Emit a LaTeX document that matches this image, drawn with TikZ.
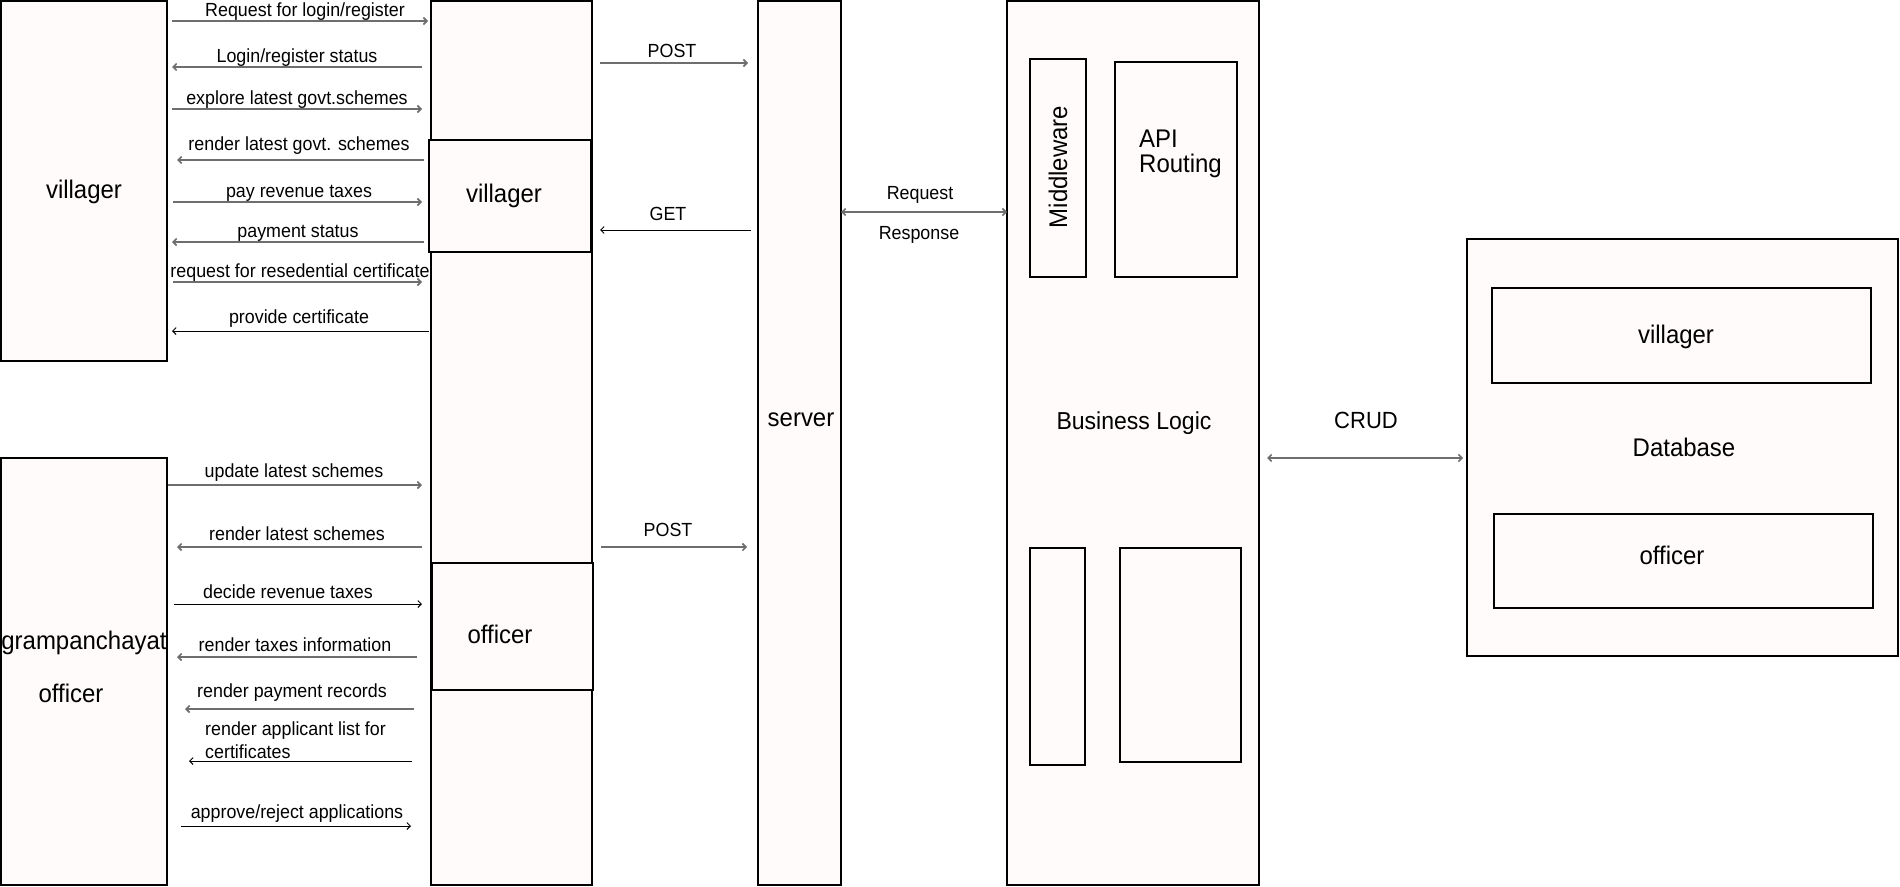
\documentclass[tikz,border=0pt]{standalone}
\usepackage{fontspec}
\setmainfont{Liberation Sans}[FakeStretch=0.94]
\usetikzlibrary{arrows.meta}
\definecolor{boxfill}{HTML}{FFFBFB}
\definecolor{arrgray}{HTML}{6E6E6E}
\newcommand\mymsg[5]{%
  \coordinate (#1a) at (#2,#4);
  \coordinate (#1b) at (#3,#4);
  \draw[#5] (#1a) -- (#1b);}
\tikzset{
  x=1pt,y=-1pt,
  box/.style={draw=black,line width=1.1pt,fill=boxfill,anchor=north west,inner sep=0pt,outer sep=0pt},
  small/.style={inner sep=0pt,font=\fontsize{19}{22}\selectfont},
  big/.style={inner sep=0pt,font=\fontsize{25.5}{28}\selectfont},
  tipa/.tip={Straight Barb[length=3.5pt,width=7pt]},
  garr/.style={draw=arrgray,line width=1.6pt,-tipa},
  barr/.style={draw=black,line width=0.9pt,-tipa},
  gdarr/.style={draw=arrgray,line width=1.6pt,tipa-tipa},
}
\begin{document}
\begin{tikzpicture}
\useasboundingbox (0,0) rectangle (1900,886);
% boxes
\node[box,minimum width=166pt,minimum height=360pt] (lv) at (1,1) {};
\node[box,minimum width=166pt,minimum height=427pt] (lo) at (1,458) {};
\node[box,minimum width=161pt,minimum height=884pt] (midcol) at (431,1) {};
\node[box,minimum width=162pt,minimum height=112pt] (mv) at (429,140) {};
\node[box,minimum width=161pt,minimum height=127pt] (mo) at (432,563) {};
\node[box,minimum width=83pt,minimum height=884pt] (srv) at (758,1) {};
\node[box,minimum width=252pt,minimum height=884pt] (bl) at (1007,1) {};
\node[box,minimum width=56pt,minimum height=218pt] (mw) at (1030,59) {};
\node[box,minimum width=122pt,minimum height=215pt] (api) at (1115,62) {};
\node[box,minimum width=55pt,minimum height=217pt] (bx1) at (1030,548) {};
\node[box,minimum width=121pt,minimum height=214pt] (bx2) at (1120,548) {};
\node[box,minimum width=431pt,minimum height=417pt] (db) at (1467,239) {};
\node[box,minimum width=379pt,minimum height=95pt] (dbv) at (1492,288) {};
\node[box,minimum width=379pt,minimum height=94pt] (dbo) at (1494,514) {};
% big labels
\node[big] (tlv) at (84,192) {villager};
\node[big] (tlo1) at (84,643) {grampanchayat};
\node[big] (tlo2) at (71,693) {officer};
\node[big] (tmv) at (504,196) {villager};
\node[big] (tmo) at (500,634) {officer};
\node[big] (tsrv) at (801,420) {server};
\node[big,rotate=90] (tmw) at (1058,167) {Middleware};
\node[big,anchor=west] (tapi1) at (1139,139) {API};
\node[big,anchor=west] (tapi2) at (1139,166) {Routing};
\node[inner sep=0pt,font=\fontsize{24.5}{28}\selectfont] (tbl) at (1134,423) {Business Logic};
\node[inner sep=0pt,font=\fontsize{23.4}{26}\selectfont] (tcrud) at (1366,420) {CRUD};
\node[big] (tdb) at (1684,447) {Database};
\node[big] (tdbv) at (1676,337) {villager};
\node[big] (tdbo) at (1672,555) {officer};
% villager messages
\mymsg{v1}{172}{428}{21}{garr}
\mymsg{v2}{422}{172}{67}{garr}
\mymsg{v3}{172}{422}{109}{garr}
\mymsg{v4}{424}{177}{160}{garr}
\mymsg{v5}{173}{422}{202}{garr}
\mymsg{v6}{424}{172}{242}{garr}
\mymsg{v7}{173}{422}{282}{garr}
\mymsg{v8}{429}{172}{331}{barr}
\node[small] (lv1) at (305,12) {Request for login/register};
\node[small] (lv2) at (297,58) {Login/register status};
\node[small] (lv3) at (297,100) {explore latest govt.schemes};
\node[small] (lv4) at (299,146) {render latest govt. schemes};
\node[small] (lv5) at (299,193) {pay revenue taxes};
\node[small] (lv6) at (298,233) {payment status};
\node[small] (lv7) at (300,273) {request for resedential certificate};
\node[small] (lv8) at (299,319) {provide certificate};
% officer messages
\mymsg{o1}{168}{422}{485}{garr}
\mymsg{o2}{422}{177}{547}{garr}
\mymsg{o3}{174}{422}{604}{barr}
\mymsg{o4}{417}{177}{657}{garr}
\mymsg{o5}{414}{185}{709}{garr}
\mymsg{o6}{412}{189}{761}{barr}
\mymsg{o7}{181}{411}{826}{barr}
\node[small] (lo1) at (294,473) {update latest schemes};
\node[small] (lo2) at (297,534) {render latest schemes};
\node[small] (lo3) at (288,592) {decide revenue taxes};
\node[small] (lo4) at (295,645) {render taxes information};
\node[small] (lo5) at (292,693) {render payment records};
\node[small,anchor=west] (lo6a) at (205,731) {render applicant list for};
\node[small,anchor=west] (lo6b) at (205,752) {certificates};
\node[small] (lo7) at (297,814) {approve/reject applications};
% middle to server
\mymsg{p1}{600}{748}{63}{garr}
\mymsg{g1}{751}{600}{230}{barr}
\mymsg{p2}{601}{747}{547}{garr}
\node[small] (lp1) at (672,51) {POST};
\node[small] (lg1) at (668,214) {GET};
\node[small] (lp2) at (668,530) {POST};
% server to business logic
\coordinate (rra) at (srv.east |- 0,212);
\coordinate (rrb) at (bl.west |- 0,212);
\draw[gdarr] (rra) -- (rrb);
\node[small] (lreq) at (920,195) {Request};
\node[small] (lresp) at (919,235) {Response};
% crud
\mymsg{cr}{1267}{1463}{458}{gdarr}
\end{tikzpicture}
\end{document}
